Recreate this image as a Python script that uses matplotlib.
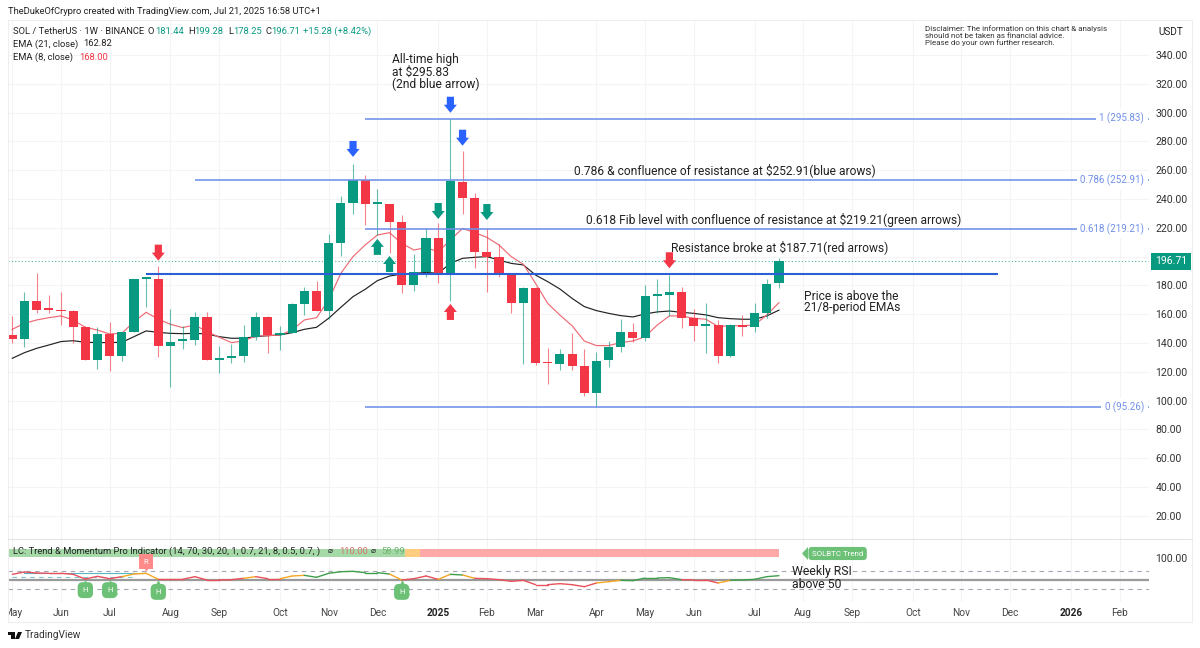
import matplotlib
matplotlib.use("Agg")
import matplotlib.pyplot as plt
from matplotlib.patches import Rectangle, Polygon

plt.rcParams['font.family'] = ['Roboto', 'DejaVu Sans']

W, H = 1200, 648
UP, DOWN = '#089981', '#F23645'
BLUE = '#2962FF'

opens = [145.3,143.0,169.4,163.6,163.0,162.0,150.9,128.2,146.3,131.2,147.4,184.4,184.4,137.9,141.4,142.0,
         158.3,128.2,129.8,131.0,144.4,157.8,145.4,147.2,166.9,176.4,162.2,209.7,237.0,253.0,236.5,236.8,
         224.0,180.3,189.3,213.2,187.9,252.0,240.5,203.2,200.0,187.9,168.0,178.5,126.4,125.7,132.4,124.3,
         105.3,128.0,137.3,147.4,143.3,172.9,173.1,175.2,157.4,152.1,152.5,131.2,152.8,151.4,160.6,181.44]
closes = [143.0,169.4,163.2,163.0,162.0,150.9,128.2,146.3,131.2,147.4,184.2,184.9,137.9,141.0,142.0,158.3,
          128.0,129.6,131.0,144.0,157.8,145.6,146.7,167.1,176.4,162.2,209.7,237.5,253.0,236.5,237.2,224.0,
          180.3,189.5,213.2,187.9,252.5,240.5,203.2,200.0,187.7,168.0,178.5,126.1,126.0,132.2,124.3,105.3,
          127.8,137.3,147.4,143.3,172.7,173.6,175.2,157.4,152.1,152.5,131.2,152.8,151.4,160.6,181.0,196.71]
highs = [158.8,175.7,188.9,173.6,175.7,163.0,151.8,150.9,154.8,147.6,184.4,185.9,193.7,163.4,151.8,161.8,
         161.3,138.0,139.3,152.3,161.3,159.0,151.8,167.6,179.1,183.1,215.5,242.0,264.3,256.7,247.0,236.8,
         228.9,201.8,219.6,223.1,295.83,273.5,244.4,219.6,208.5,188.9,179.1,179.0,136.6,135.6,147.2,135.6,
         133.8,141.4,156.5,153.7,180.1,184.7,187.2,179.1,163.4,168.0,156.0,153.2,159.5,168.0,184.2,199.28]
lows = [139.8,137.5,160.6,161.1,152.5,139.8,128.0,121.7,120.8,127.8,147.4,165.3,130.5,109.7,135.6,138.6,
        128.0,119.4,126.4,127.1,142.1,132.9,135.2,146.7,159.2,162.2,156.5,200.4,229.6,222.0,215.0,202.7,
        175.0,176.3,185.6,181.9,169.0,229.6,192.3,175.7,186.0,160.6,125.2,125.0,111.6,121.3,121.3,103.5,
        95.26,123.1,133.5,140.5,141.6,160.6,159.0,150.2,141.4,132.9,125.9,130.5,144.9,147.7,157.2,178.25]

ema21 = [129.4,133.3,136.3,138.6,141.0,141.6,140.5,140.3,140.3,140.5,144.4,148.4,147.4,146.7,146.5,146.7,
         146.3,144.4,143.3,143.3,144.4,145.1,145.6,147.2,149.5,150.9,157.2,164.8,172.2,177.3,183.3,186.5,
         187.9,188.4,189.0,188.4,195.3,198.8,199.5,200.0,197.6,195.3,194.2,187.2,182.6,177.5,171.0,165.3,
         162.5,160.6,159.0,158.1,160.2,161.6,162.2,161.3,160.6,159.5,157.6,156.9,156.5,156.5,158.8,162.82]
ema8 = [149.5,153.7,156.0,157.6,158.8,156.0,150.9,149.0,146.3,146.7,154.8,161.3,156.5,153.0,150.7,152.5,
        147.9,144.0,140.3,141.4,144.9,145.1,145.6,149.0,156.0,157.6,169.9,188.4,200.0,208.1,215.0,216.6,
        209.2,204.6,206.2,203.4,211.5,219.6,216.6,213.4,208.0,200.0,194.6,181.4,167.5,159.4,152.0,141.4,
        138.2,138.2,140.3,141.4,144.4,152.5,158.8,158.8,157.2,156.5,151.4,152.0,152.0,152.5,159.5,168.0]

rsi = [62.9,68.2,65.9,65.2,65.2,62.9,52.3,58.3,53.0,57.6,63.6,65.2,51.5,51.5,51.5,57.6,
       50.0,50.0,50.8,53.8,57.6,53.0,53.0,59.1,60.6,56.1,65.2,68.9,69.7,66.7,66.7,63.6,
       50.0,53.0,59.1,51.5,62.9,61.4,53.8,53.0,50.8,47.0,49.2,39.4,39.4,41.7,39.4,34.8,
       43.2,46.2,49.2,48.5,54.5,54.5,55.3,50.8,50.0,50.0,43.2,49.2,50.0,51.5,57.6,59.8]
R, O, G = '#E8505B', '#F5A623', '#3F9E4D'
rsi_colors = [R]*9 + [O]*3 + [R]*7 + [O]*1 + [R]*2 + [O]*2 + [G]*7 + [O]*1 + [R]*3 + [O]*1 + [G]*1 + [O]*1 + \
             [R]*10 + [O]*2 + [G]*5 + [R]*3 + [O]*1 + [G]*4
rsi_upper_band = [66]*11
rsi_lower_band = [57.6]*11

band_starts = [-0.5, 32.3, 33.5]
band_ends = [32.3, 33.5, 63.0]
band_colors = ['#A5D9A8', '#FFCC80', '#FFA8A8']

price_ticks = list(range(20, 341, 20))
month_pos = [0,4,8,13,17,22,26,30,35,39,43,48,52,56,61,65,69,74,78,82,87,91]
month_labels = ['May','Jun','Jul','Aug','Sep','Oct','Nov','Dec','2025','Feb','Mar','Apr','May','Jun','Jul',
                'Aug','Sep','Oct','Nov','Dec','2026','Feb']

fib_levels = [295.83, 252.91, 219.21, 95.26]
fib_starts = [29, 15, 29, 29]
fib_labels = ['1 (295.83)', '0.786 (252.91)', '0.618 (219.21)', '0 (95.26)']
resistance = 187.71
res_start, res_end = 11, 81
last_price = 196.71

arrow_x = [28, 36, 37, 35, 39, 30, 31, 36, 12, 54]
arrow_tip = [269.2, 299.9, 277.0, 226.1, 225.4, 212.3, 200.4, 167.1, 197.2, 191.9]
arrow_dir = [-1, -1, -1, -1, -1, 1, 1, 1, -1, -1]
arrow_col = [BLUE, BLUE, BLUE, UP, UP, UP, UP, DOWN, DOWN, DOWN]

h_x = [6, 8, 12, 32]
h_tip = [50, 50, 50, 50]
h_box = [27, 27, 23, 23]
r_x, r_tip, r_box = 11, 68, 92

fig = plt.figure(figsize=(12, 6.48), dpi=100, facecolor='white')

def axrect(x0, y0, x1, y1):
    return [x0/W, 1-y1/H, (x1-x0)/W, (y1-y0)/H]

ax = fig.add_axes(axrect(8, 20, 1149, 539))
ax2 = fig.add_axes(axrect(8, 539, 1149, 602))
xlim = (-0.353, 93.41)
PX, PY = 12.17, 1.44
ax.set_xlim(xlim); ax.set_ylim(3.9, 364.3)
ax2.set_xlim(xlim); ax2.set_ylim(0, 143.2)

for a in (ax, ax2):
    for s in a.spines.values():
        s.set_visible(False)
    a.set_xticks(month_pos)
    a.grid(True, axis='x', color='#f4f4f4', lw=0.8, zorder=0)
    a.set_axisbelow(True)
ax.grid(True, axis='y', color='#f4f4f4', lw=0.8, zorder=0)
ax.tick_params(axis='x', length=0, labelbottom=False)
ax.yaxis.tick_right()
ax.set_yticks(price_ticks)
ax.set_yticklabels([f'{v:.2f}' for v in price_ticks], fontsize=7.6, color='#333333')
ax.tick_params(axis='y', length=0, pad=4.5)

ax2.yaxis.tick_right()
ax2.set_yticks([100])
ax2.set_yticklabels(['100.00'], fontsize=7.6, color='#333333')
ax2.tick_params(axis='y', length=0, pad=4.5)
ax2.tick_params(axis='x', length=0, pad=4.5)
ax2.set_xticklabels(month_labels, fontsize=7.3, color='#444444')
for lab, t in zip(ax2.get_xticklabels(), month_labels):
    if t.startswith('20'):
        lab.set_fontweight('bold'); lab.set_color('#222222')

# EMAs behind candles
xs = list(range(len(opens)))
ax.plot(xs, ema21, color='#222222', lw=0.85, zorder=2)
ax.plot(xs, ema8, color='#EE6A75', lw=0.85, zorder=2)

# Candles
for i, (o, c, h, l) in enumerate(zip(opens, closes, highs, lows)):
    col = UP if c >= o else DOWN
    ax.vlines(i, l, h, color=col, lw=0.8, alpha=0.62, zorder=3)
    bot, ht = min(o, c), max(abs(c-o), 1.1)
    ax.bar(i, ht, 0.75, bottom=bot, color=col, lw=0, zorder=3.2)

# Levels
ax.axhline(last_price, color=UP, lw=0.8, ls=(0, (1, 2)), alpha=0.7, zorder=2)
for lv, st, lb in zip(fib_levels, fib_starts, fib_labels):
    ax.hlines(lv, st, xlim[1], color='#6F90E8', lw=1.15, zorder=4)
    ax.text(93.0, lv, lb, color='#6F90E8', fontsize=7.0, ha='right', va='center', zorder=5,
            bbox=dict(fc='white', ec='none', pad=2.5))
ax.hlines(resistance, res_start, res_end, color='#2A5FD6', lw=1.5, zorder=4)

# Arrows
def arrow(x, tip, d, col):
    hw, sw, hl, tl = 6.5/PX, 3.6/PX, 8/PY, 16/PY
    pts = [(x, tip), (x-hw, tip+d*(-hl)), (x-sw, tip+d*(-hl)), (x-sw, tip+d*(-tl)),
           (x+sw, tip+d*(-tl)), (x+sw, tip+d*(-hl)), (x+hw, tip+d*(-hl))]
    ax.add_patch(Polygon(pts, closed=True, fc=col, ec='none', zorder=6))
for x, t, d, c in zip(arrow_x, arrow_tip, arrow_dir, arrow_col):
    arrow(x, t, d, c)

# Last price tag
ax.text(1+(1155-1149)/1141, last_price, f'{last_price:.2f}', transform=ax.get_yaxis_transform(),
        color='white', fontsize=7.6, va='center', ha='left', clip_on=False, zorder=10,
        bbox=dict(boxstyle='square,pad=0.35', fc=UP, ec='none'))

# Indicator pane
for lo, hi, c in zip(band_starts, band_ends, band_colors):
    ax2.add_patch(Rectangle((lo, 103), hi-lo, 16.5, fc=c, ec='none', zorder=2))
ax2.axhline(50, color='#9a9a9a', lw=1.6, zorder=2)
for v in (70, 30):
    ax2.axhline(v, color='#a5a5b5', lw=0.8, ls=(0, (4, 4)), zorder=2)
ax2.plot(range(1, 12), rsi_upper_band, color='#55B7C4', lw=0.8, zorder=3)
ax2.plot(range(0, 11), rsi_lower_band, color='#7CC7D1', lw=0.8, ls=(0, (4, 4)), zorder=2)
for i in range(len(rsi)-1):
    ax2.plot([i, i+1], [rsi[i], rsi[i+1]], color=rsi_colors[i], lw=1.0, zorder=4, solid_capstyle='round')

TAG_G = '#6CC177'
for x, t, b in zip(h_x, h_tip, h_box):
    ax2.scatter([x], [t-17], marker='^', s=116, color=TAG_G, lw=0, zorder=6, clip_on=False)
    ax2.annotate('H', (x, b), color='white', fontsize=5.5, ha='center', va='center', zorder=7,
                 bbox=dict(boxstyle='round,pad=0.65', fc=TAG_G, ec='none'), annotation_clip=False)
ax2.scatter([r_x], [r_tip+15], marker='v', s=87, color='#FF8A8A', lw=0, zorder=6)
ax2.annotate('R', (r_x, r_box), color='white', fontsize=5.5, ha='center', va='center', zorder=7,
             bbox=dict(boxstyle='square,pad=0.6', fc='#FF8A8A', ec='none'), annotation_clip=False)

# Figure frame and cover for the clipped first label
fig.add_artist(Rectangle((0, 0), 8/W, 1, transform=fig.transFigure, fc='white', ec='none', zorder=8))
def fline(x0, y0, x1, y1, c='#eeeeee', lw=0.8):
    fig.add_artist(plt.Line2D([x0/W, x1/W], [1-y0/H, 1-y1/H], transform=fig.transFigure, color=c, lw=lw, zorder=9))
fline(8, 20, 1192, 20); fline(8, 20, 8, 622); fline(1192, 20, 1192, 622); fline(8, 622, 1192, 622)
fline(8, 539, 1192, 539, '#e4e4e4')

def T(x, y, s, size=7.6, color='#222222', **kw):
    kw.setdefault('va', 'center')
    return fig.text(x/W, 1-y/H, s, fontsize=size, color=color, zorder=20, **kw)

HS = 6.75
T(8, 12, 'TheDukeOfCrypro created with TradingView.com, Jul 21, 2025 16:58 UTC+1', HS)
T(13, 31, 'SOL / TetherUS · 1W · BINANCE', HS)
for x, s, c in [(148, 'O', '#222222'), (155, '181.44', UP), (188, 'H', '#222222'), (194.5, '199.28', UP),
                (228, 'L', '#222222'), (233, '178.25', UP), (265, 'C', '#222222'), (271.5, '196.71', UP),
                (303, '+15.28 (+8.42%)', UP)]:
    T(x, 31, s, HS, c)
T(13, 44, 'EMA (21, close)', HS); T(83, 44, '162.82', HS)
T(13, 57, 'EMA (8, close)', HS); T(79, 57, '168.00', HS, DOWN)
T(925, 29, 'Disclaimer: The information on this chart & analysis', 5.8, '#333333')
T(925, 36, 'should not be taken as financial advice.', 5.8, '#333333')
T(925, 43, 'Please do your own further research.', 5.8, '#333333')
T(1158, 32, 'USDT', 7.2, '#222222')

ann = 8.65
T(392, 60, 'All-time high', ann); T(392, 72, 'at $295.83', ann); T(392, 84, '(2nd blue arrow)', ann)
T(574, 170, '0.786 & confluence of resistance at $252.91(blue arows)', ann)
T(585.5, 220, '0.618 Fib level with confluence of resistance at $219.21(green arrows)', ann)
T(671, 247, 'Resistance broke at $187.71(red arrows)', ann)
T(804, 296, 'Price is above the', ann); T(804, 308, '21/8-period EMAs', ann)
T(792, 572, 'Weekly RSI', 8.8); T(792, 584, 'above 50', 8.8)

T(13, 551, 'LC: Trend & Momentum Pro Indicator (14, 70, 30, 20, 1, 0.7, 21, 8, 0.5, 0.7, )', HS)
T(328, 551, '⌀', 6); T(339, 551, '110.00', HS, '#d9706f')
T(371, 551, '⌀', 6); T(381, 551, '58.99', HS, '#6fb36f')

# SOLBTC tag
T(812, 553.5, 'SOLBTC Trend', 5.7, 'white', bbox=dict(boxstyle='round,pad=0.45', fc=TAG_G, ec='none'))
fig.add_artist(Polygon([(802/W, 1-553.5/H), (808/W, 1-547/H), (808/W, 1-560/H)], closed=True,
                       transform=fig.transFigure, fc=TAG_G, ec='none', zorder=19))

# TradingView logo
def fpoly(pts, c='#111111'):
    fig.add_artist(Polygon([(x/W, 1-y/H) for x, y in pts], closed=True, transform=fig.transFigure,
                           fc=c, ec='none', zorder=20))
fpoly([(7.5, 632), (14.5, 632), (14.5, 639), (10.5, 639), (10.5, 635.2), (7.5, 635.2)])
fpoly([(15, 639), (18, 632), (22, 632), (19, 639)])
T(25, 635.5, 'TradingView', 7.3, '#333333')

fig.savefig('out.png', dpi=100, facecolor='white')
